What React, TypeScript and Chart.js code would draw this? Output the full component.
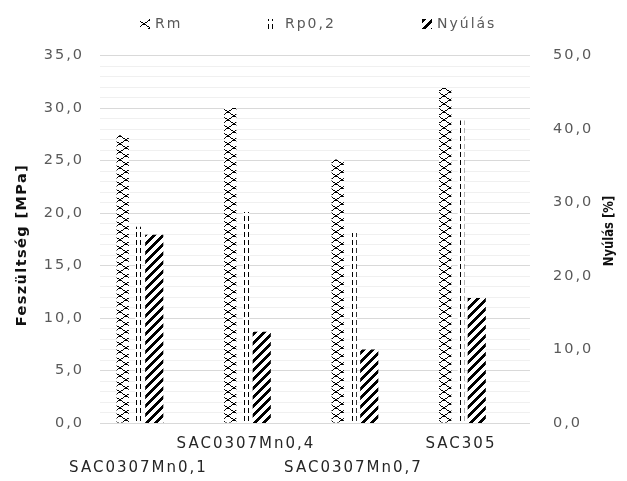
import React, { useEffect, useRef } from 'react';
import { Chart, registerables } from 'chart.js';

Chart.register(...registerables);

// ---- data ----
const categories = ['SAC0307Mn0,1', 'SAC0307Mn0,4', 'SAC0307Mn0,7', 'SAC305'];
const seriesLabels = ['Rm', 'Rp0,2', 'Nyúlás'];
const rmValues = [27.4, 30.0, 25.1, 31.9];
const rpValues = [18.7, 20.1, 18.1, 28.8];
const nyulasValues = [25.6, 12.4, 10.0, 17.0];
const leftTickValues = [0, 5, 10, 15, 20, 25, 30, 35];
const rightTickValues = [0, 10, 20, 30, 40, 50];
const leftAxisTitle = 'Feszültség [MPa]';
const rightAxisTitle = 'Nyúlás [%]';

const FONT = '"DejaVu Sans", sans-serif';
const fmt = (v: number) => v.toFixed(1).replace('.', ',');

function makeTile(w: number, h: number, draw: (g: CanvasRenderingContext2D) => void) {
  const c = document.createElement('canvas');
  c.width = w;
  c.height = h;
  const g = c.getContext('2d')!;
  g.fillStyle = '#ffffff';
  g.fillRect(0, 0, w, h);
  g.fillStyle = '#000000';
  draw(g);
  return c;
}

function makePatterns(ctx: CanvasRenderingContext2D) {
  const cross = makeTile(12, 8, (g) => {
    for (let i = 0; i < 12; i++) {
      const y = Math.floor((i * 8) / 12);
      g.fillRect(i, y, 1, 1);
      g.fillRect(11 - i, y, 1, 1);
    }
  });
  const dash = makeTile(4, 8, (g) => {
    g.fillRect(0, 0, 1, 5);
  });
  const diag = makeTile(9, 9, (g) => {
    for (let x = 0; x < 9; x++) {
      for (let y = 0; y < 9; y++) {
        if ((x + y) % 9 < 4) g.fillRect(x, y, 1, 1);
      }
    }
  });
  return {
    cross: ctx.createPattern(cross, 'repeat')!,
    dash: ctx.createPattern(dash, 'repeat')!,
    diag: ctx.createPattern(diag, 'repeat')!,
  };
}

const legendBoxX = [140, 265, 422];
const legendTextX = [155, 285, 437];

const decorPlugin = {
  id: 'decor',
  beforeDraw(chart: any) {
    chart.ctx.letterSpacing = '2px';
  },
  afterDraw(chart: any) {
    const ctx = chart.ctx as CanvasRenderingContext2D & { letterSpacing: string };
    ctx.save();
    ctx.textBaseline = 'middle';
    ctx.textAlign = 'left';
    ctx.font = `14px ${FONT}`;
    ctx.letterSpacing = '2px';
    chart.data.datasets.forEach((ds: any, i: number) => {
      ctx.fillStyle = ds.backgroundColor;
      ctx.fillRect(legendBoxX[i], 19, 10, 10);
      ctx.fillStyle = '#595959';
      ctx.fillText(ds.label, legendTextX[i], 24);
    });
    const drawV = (text: string, x: number, y: number, size: number, ls: number, along: number) => {
      ctx.save();
      ctx.translate(x, y);
      ctx.rotate(-Math.PI / 2);
      ctx.scale(along, 1);
      ctx.font = `bold ${size}px ${FONT}`;
      ctx.letterSpacing = `${ls}px`;
      ctx.textAlign = 'center';
      ctx.textBaseline = 'middle';
      ctx.fillStyle = '#111111';
      ctx.fillText(text, 0, 0);
      ctx.restore();
    };
    drawV(leftAxisTitle, 22, 245, 14.5, 1.4, 1);
    drawV(rightAxisTitle, 609, 231, 14.5, 0, 0.8);
    ctx.restore();
  },
};

export default function App() {
  const canvasRef = useRef<HTMLCanvasElement | null>(null);

  useEffect(() => {
    const canvas = canvasRef.current;
    if (!canvas) return;
    const ctx = canvas.getContext('2d')!;
    const p = makePatterns(ctx);
    const toXY = (arr: number[]) => arr.map((v, i) => ({ x: i, y: v }));

    const chart = new Chart(canvas, {
      type: 'bar',
      data: {
        datasets: [
          {
            label: seriesLabels[0],
            data: toXY(rmValues),
            backgroundColor: p.cross,
            borderWidth: 0,
            yAxisID: 'y',
            categoryPercentage: 0.44,
            barPercentage: 0.78,
          },
          {
            label: seriesLabels[1],
            data: toXY(rpValues),
            backgroundColor: p.dash,
            borderWidth: 0,
            yAxisID: 'y',
            categoryPercentage: 0.44,
            barPercentage: 0.42,
          },
          {
            label: seriesLabels[2],
            data: toXY(nyulasValues),
            backgroundColor: p.diag,
            borderWidth: 0,
            yAxisID: 'y1',
            categoryPercentage: 0.44,
            barPercentage: 1.15,
          },
        ] as any,
      },
      options: {
        responsive: true,
        maintainAspectRatio: false,
        animation: false,
        layout: { padding: { top: 55.5, left: 0, right: 0, bottom: 0 } },
        plugins: {
          legend: { display: false },
          tooltip: { enabled: false },
        },
        scales: {
          x: {
            type: 'linear',
            min: -0.358,
            max: 3.642,
            offset: false,
            grid: { display: false, drawTicks: false },
            border: { display: false },
            afterBuildTicks: (s: any) => {
              s.ticks = categories.map((_, i) => ({ value: i }));
            },
            afterFit: (s: any) => {
              s.height = 58;
            },
            ticks: {
              autoSkip: false,
              maxRotation: 0,
              minRotation: 0,
              padding: 9.5,
              color: '#262626',
              font: { family: FONT, size: 15, lineHeight: 1.6 },
              callback: (v: any) => {
                const i = Math.round(Number(v));
                const label = categories[i] ?? '';
                return i % 2 === 0 ? ['', label] : [label];
              },
            },
          },
          y: {
            type: 'linear',
            position: 'left',
            min: 0,
            max: 35,
            grid: {
              drawTicks: false,
              lineWidth: 1,
              color: (c: any) => (leftTickValues.includes(c.tick?.value) ? '#d9d9d9' : '#f0f0f0'),
            },
            border: { display: false },
            afterFit: (s: any) => {
              s.width = 100;
            },
            ticks: {
              stepSize: 1,
              autoSkip: false,
              padding: 16,
              color: '#595959',
              font: { family: FONT, size: 14.5 },
              callback: (v: any) => (leftTickValues.includes(Number(v)) ? fmt(Number(v)) : ''),
            },
          },
          y1: {
            type: 'linear',
            position: 'right',
            min: 0,
            max: 50,
            grid: { display: false, drawTicks: false },
            border: { display: false },
            afterFit: (s: any) => {
              s.width = 97;
            },
            ticks: {
              stepSize: 10,
              autoSkip: false,
              padding: 23,
              color: '#595959',
              font: { family: FONT, size: 14.5 },
              callback: (v: any) => (rightTickValues.includes(Number(v)) ? fmt(Number(v)) : ''),
            },
          },
        },
      } as any,
      plugins: [decorPlugin],
    });

    return () => chart.destroy();
  }, []);

  return (
    <div style={{ position: 'fixed', left: 0, top: 0, width: 627, height: 481, background: '#ffffff' }}>
      <canvas ref={canvasRef} />
    </div>
  );
}
